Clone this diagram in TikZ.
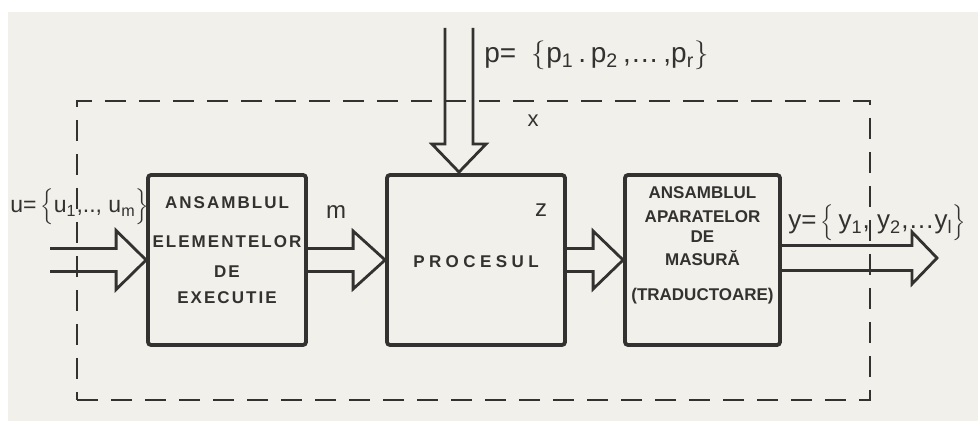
\documentclass[tikz,border=0pt]{standalone}
\usepackage{fontspec}
\setmainfont{Liberation Sans}
\newfontfamily\boxfont[LetterSpace=12]{Liberation Sans}
\newfontfamily\procfont[LetterSpace=26]{Liberation Sans}
\usetikzlibrary{calc}
\definecolor{inkc}{RGB}{52,50,48}
\definecolor{paper}{RGB}{242,240,235}
\newcommand\fatarrowh[5]{%
  \draw[fatarrow] ($(#1)+(0,-#4)$) -- ($(#2)+(-#3,-#4)$) -- ($(#2)+(-#3,-#5)$) -- (#2)
    -- ($(#2)+(-#3,#5)$) -- ($(#2)+(-#3,#4)$) -- ($(#1)+(0,#4)$);}
\begin{document}
\begin{tikzpicture}[x=0.5pt,y=-0.5pt,
  blk/.style={draw=inkc, line width=1.9pt, rounded corners=1.5pt, minimum height=85pt, inner sep=0pt},
  fatarrow/.style={draw=inkc, line width=1.4pt, line join=miter},
  frame/.style={draw=inkc, line width=1.2pt, dash pattern=on 10.5pt off 6.5pt, minimum width=396.5pt, minimum height=149.5pt, inner sep=0pt},
  txtA/.style={text=inkc, align=center, font=\boxfont\bfseries\fontsize{8.5}{13}\selectfont},
  txtB/.style={text=inkc, align=center, font=\bfseries\fontsize{8.5}{11}\selectfont},
  txtP/.style={text=inkc, font=\procfont\bfseries\fontsize{8.5}{10}\selectfont},
  lab/.style={text=inkc, inner sep=0pt, font=\fontsize{11}{13}\selectfont}
]
\fill[white] (0,0) rectangle (978,421);
\fill[paper] (8,12) rectangle (978,421);
\useasboundingbox (0,0) rectangle (978,421);

% system boundary
\node[frame] (sys) at (473.5,250.5) {};

% blocks
\node[blk, minimum width=79pt] (b1) at (227,260) {};
\node[blk, minimum width=89pt] (b2) at (476,260) {};
\node[blk, minimum width=77.5pt] (b3) at (702.5,260) {};

% block texts
\node[txtA] (t1) at (227,250) {ANSAMBLUL\\[6.5pt]ELEMENTELOR\\[2pt]DE\\EXECUTIE};
\node[txtP] (t2) at (476,262) {PROCESUL};
\node[txtB] (t3) at (702.5,245) {ANSAMBLUL\\[1pt]APARATELOR\\[-1pt]DE\\[0.5pt]MASURĂ\\[6.5pt](TRADUCTOARE)};

% arrows
\coordinate (uin) at (50,260);
\coordinate (yout) at (937,258);
\fatarrowh{uin}{b1.west}{30}{11.5}{29.5}
\fatarrowh{b1.east}{b2.west}{32}{11.5}{29}
\fatarrowh{b2.east}{b3.west}{30}{11.5}{29}
\fatarrowh{b3.east|-yout}{yout}{25}{12.5}{26}

% disturbance arrow
\coordinate (pin) at (459,28);
\coordinate (ptip) at ($(b2.north)+(-17,-1)$);
\draw[fatarrow] ($(pin)+(-14,0)$) -- ($(ptip)+(-14,-28)$) -- ($(ptip)+(-27,-28)$) -- (ptip)
  -- ($(ptip)+(27,-28)$) -- ($(ptip)+(14,-28)$) -- ($(pin)+(14,0)$);

% labels
\node[lab, anchor=base west, font=\fontsize{14}{16}\selectfont] (plab) at (484,63)
  {p= \;$\Big\{$p\textsubscript{1}\,.\,p\textsubscript{2}\,,\dots\,,p\textsubscript{r}$\Big\}$};
\node[lab, anchor=base] (xlab) at (533,127) {x};
\node[lab, anchor=base, font=\fontsize{12}{14}\selectfont] (mlab) at (336,219) {m};
\node[lab, anchor=base, font=\fontsize{12}{14}\selectfont] (zlab) at (541,217) {z};
\node[lab, anchor=base west, font=\fontsize{11.5}{13}\selectfont] (ulab) at (10,213)
  {u=\,$\Big\{$u\textsubscript{1},.., u\textsubscript{m}$\Big\}$};
\node[lab, anchor=base west, font=\fontsize{13}{15}\selectfont] (ylab) at (788,229)
  {y=\,$\Big\{$\,y\textsubscript{1}, y\textsubscript{2},\dots y\textsubscript{l}$\Big\}$};
\end{tikzpicture}
\end{document}
